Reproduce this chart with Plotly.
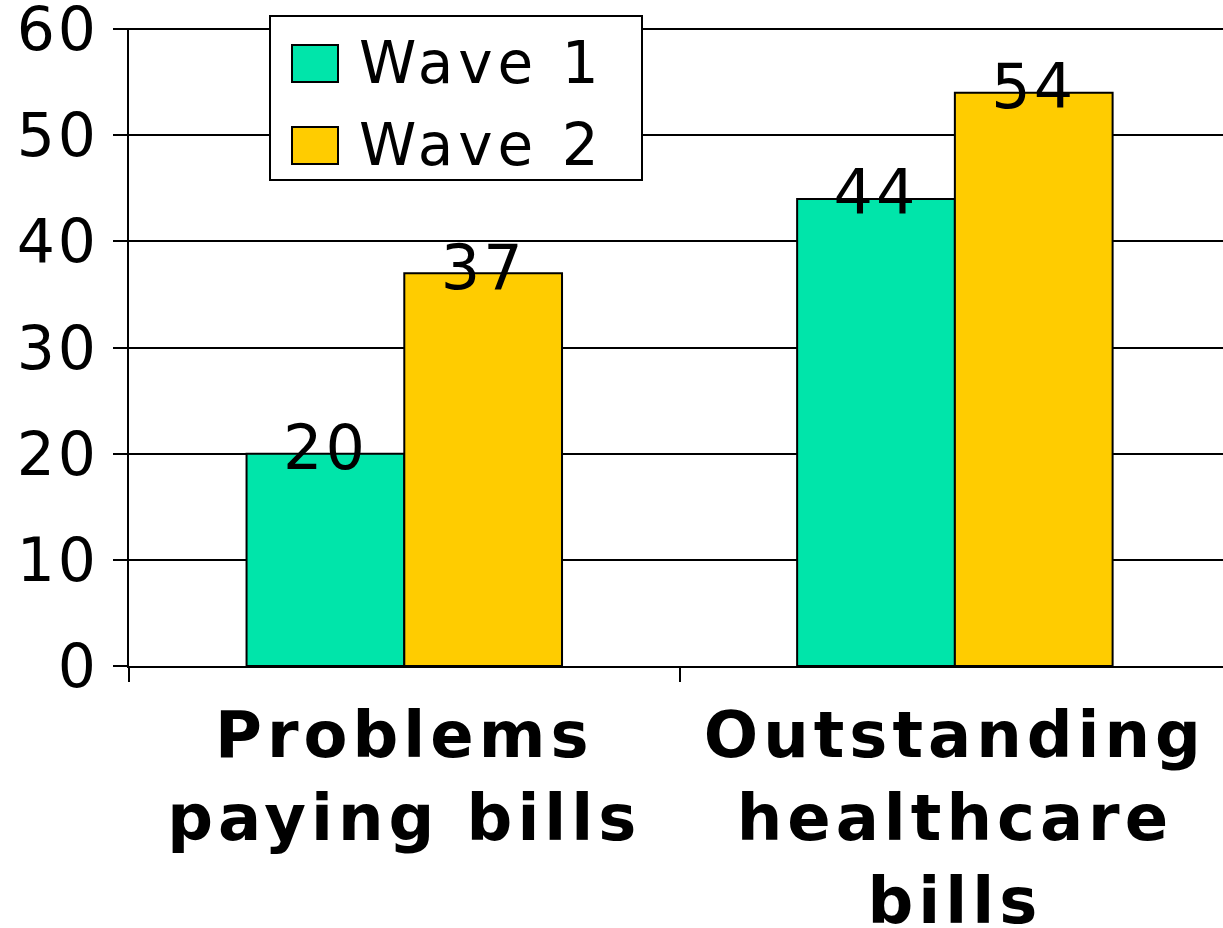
"""Wave 1 vs Wave 2 grouped bars, Excel-style look."""

import plotly.graph_objects as go

# ---------------------------------------------------------------------------
# Data
# ---------------------------------------------------------------------------

CATEGORIES = ["Problems<br>paying bills", "Outstanding<br>healthcare<br>bills"]
SERIES = ["Wave 1", "Wave 2"]
WAVE1 = [20, 44]
WAVE2 = [37, 54]
Y_TICKS = [0, 10, 20, 30, 40, 50, 60]

# ---------------------------------------------------------------------------
# Theme
# ---------------------------------------------------------------------------

TEAL = "#00E5AA"
GOLD = "#FFCC00"
INK = "#000000"
FONT = "DejaVu Sans, Arial, sans-serif"

W, H = 1223, 928
M_L, M_R, M_T, M_B = 129, 0, 28, 262


def px_x(x):
    return (x - M_L) / (W - M_L - M_R)


def px_y(y):
    return (H - M_B - y) / (H - M_T - M_B)


fig = go.Figure()

for name, vals, color, grp in ((SERIES[0], WAVE1, TEAL, "a"), (SERIES[1], WAVE2, GOLD, "b")):
    fig.add_trace(go.Bar(
        x=CATEGORIES, y=vals, name=name, offsetgroup=grp,
        marker=dict(color=color, line=dict(color=INK, width=2)),
        showlegend=False, hoverinfo="y",
    ))

# value labels sitting on the bar tops
for name, vals, grp in ((SERIES[0], WAVE1, "a"), (SERIES[1], WAVE2, "b")):
    fig.add_trace(go.Scatter(
        x=CATEGORIES, y=vals, mode="text", offsetgroup=grp,
        text=[str(v) for v in vals], textposition="middle center",
        textfont=dict(size=62, color=INK, family=FONT),
        showlegend=False, hoverinfo="skip", cliponaxis=False,
    ))

# hand-drawn legend (big swatches like the original)
shapes = [dict(
    type="rect", xref="paper", yref="paper", layer="above",
    x0=px_x(270), x1=px_x(642), y0=px_y(180), y1=px_y(16),
    fillcolor="white", line=dict(color=INK, width=2),
)]
annotations = []
for i, (name, color) in enumerate(zip(SERIES, (TEAL, GOLD))):
    top = 45 + i * 82
    shapes.append(dict(
        type="rect", xref="paper", yref="paper", layer="above",
        x0=px_x(292), x1=px_x(338), y0=px_y(top + 37), y1=px_y(top),
        fillcolor=color, line=dict(color=INK, width=2),
    ))
    annotations.append(dict(
        xref="paper", yref="paper", x=px_x(357), y=px_y(top + 18),
        xanchor="left", yanchor="middle", align="left", showarrow=False,
        text=name, font=dict(size=58, color=INK, family=FONT),
    ))

fig.update_layout(
    width=W, height=H,
    margin=dict(l=M_L, r=M_R, t=M_T, b=M_B, pad=0),
    paper_bgcolor="white", plot_bgcolor="white",
    font=dict(family=FONT, color=INK),
    barmode="group", bargap=0.427, bargroupgap=0,
    scattermode="group", scattergap=0.427,
    showlegend=False,
    shapes=shapes, annotations=annotations,
    xaxis=dict(
        range=[-0.5, 1.487], showgrid=False, automargin=False,
        showline=True, linecolor=INK, linewidth=2,
        ticks="outside", tickson="boundaries", ticklen=14, tickwidth=2, tickcolor=INK,
        tickfont=dict(size=64, color=INK, family=FONT),
        ticklabelstandoff=12,
    ),
    yaxis=dict(
        range=[0, 60.1], tickvals=Y_TICKS, showgrid=True, gridcolor=INK, gridwidth=2,
        zeroline=False, showline=True, linecolor=INK, linewidth=2, automargin=False,
        ticks="outside", ticklen=14, tickwidth=2, tickcolor=INK,
        tickfont=dict(size=60, color=INK, family=FONT),
        ticklabelstandoff=2, ticklabeloverflow="allow",
    ),
)
# bold category labels
fig.update_xaxes(ticktext=[f"<b>{c}</b>" for c in CATEGORIES], tickvals=CATEGORIES)

# the original uses wide lettering; open the svg text up a little
SPACING_JS = """
var gd = document.getElementById('{plot_id}');
function spread() {
  gd.querySelectorAll('.xtick text').forEach(function (t) { t.style.letterSpacing = '5px'; });
  gd.querySelectorAll('.ytick text').forEach(function (t) { t.style.letterSpacing = '3px'; });
  gd.querySelectorAll('.annotation-text').forEach(function (t) { t.style.letterSpacing = '5px'; });
  gd.querySelectorAll('.textpoint text').forEach(function (t) { t.style.letterSpacing = '3px'; });
}
spread();
gd.on('plotly_afterplot', spread);
document.body.style.margin = '0';
"""

fig.write_html("out.html", post_script=SPACING_JS, config={"displayModeBar": False})
